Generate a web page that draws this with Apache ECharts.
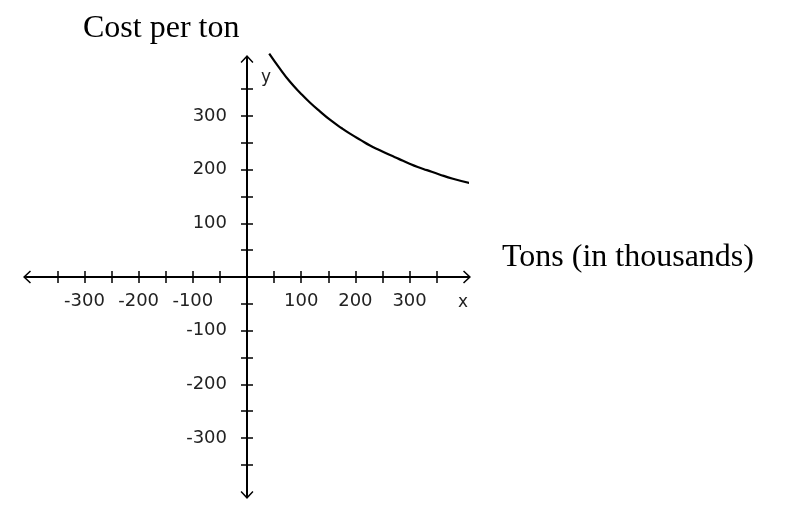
<!DOCTYPE html>
<html>
<head>
<meta charset="utf-8">
<script src="https://cdn.jsdelivr.net/npm/echarts@6/dist/echarts.min.js"></script>
<style>
  html, body { margin: 0; padding: 0; background: #fff; }
  #chart { width: 802px; height: 507px; }
</style>
</head>
<body>
<div id="chart"></div>
<script>
// values
var tons = [41, 60, 79, 100, 116, 135, 153, 175, 190, 210, 227, 245, 264, 280, 298, 315, 332, 355, 380, 411];
var cost = [416, 389, 364, 341, 325, 308, 293, 277, 267, 255, 245, 236, 227, 220, 212, 205, 199, 191, 183, 175];
var tickValues = [-350, -300, -250, -200, -150, -100, -50, 50, 100, 150, 200, 250, 300, 350];
var labelValues = [-300, -200, -100, 100, 200, 300];

var curve = tons.map(function (t, i) { return [t, cost[i]]; });

var chevron = 'path://M50,0L100,54L92,62L50,17L8,62L0,54ZM46,8L54,8L54,62L46,62Z';
var labelFont = { fontFamily: 'DejaVu Sans', fontSize: 18, color: '#222' };

// axes sit in the middle of the grid, moved there with offset
function axis(position, offset, withLabels, extra) {
  return {
    type: 'value',
    position: position,
    offset: offset,
    min: -406,
    max: 406,
    splitLine: { show: false },
    axisLine: {
      onZero: false,
      symbol: withLabels ? [chevron, chevron] : 'none',
      symbolSize: [13, 8],
      lineStyle: { color: '#000', width: 2 }
    },
    axisTick: {
      customValues: tickValues,
      length: 6,
      lineStyle: { color: '#000', width: 1.5 }
    },
    axisLabel: withLabels
      ? Object.assign({ customValues: labelValues }, labelFont, extra)
      : { show: false }
  };
}

var chart = echarts.init(document.getElementById('chart'));
chart.setOption({
  backgroundColor: '#fff',
  animation: false,
  grid: { left: 27, top: 59, width: 440, height: 436, containLabel: false, outerBoundsMode: 'none' },
  xAxis: [
    axis('bottom', -218, true, { margin: 15 }),
    axis('top', -218, false)
  ],
  yAxis: [
    axis('left', -220, true, { margin: 20, padding: [6, 0, 0, 0] }),
    axis('right', -220, false)
  ],
  series: [{
    type: 'line',
    xAxisIndex: 0,
    yAxisIndex: 0,
    data: curve,
    smooth: true,
    showSymbol: false,
    clip: false,
    lineStyle: { color: '#000', width: 2.2 }
  }],
  graphic: [
    { type: 'text', left: 83, top: 13,
      style: { text: 'Cost per ton', font: '32px "Liberation Serif"', fill: '#000' } },
    { type: 'text', left: 502, top: 242,
      style: { text: 'Tons (in thousands)', font: '32px "Liberation Serif"', fill: '#000' } },
    { type: 'text', x: 266, y: 78,
      style: { text: 'y', font: '17px "DejaVu Sans"', fill: '#222', align: 'center', verticalAlign: 'middle' } },
    { type: 'text', x: 463, y: 303,
      style: { text: 'x', font: '17px "DejaVu Sans"', fill: '#222', align: 'center', verticalAlign: 'middle' } }
  ]
});
</script>
</body>
</html>
